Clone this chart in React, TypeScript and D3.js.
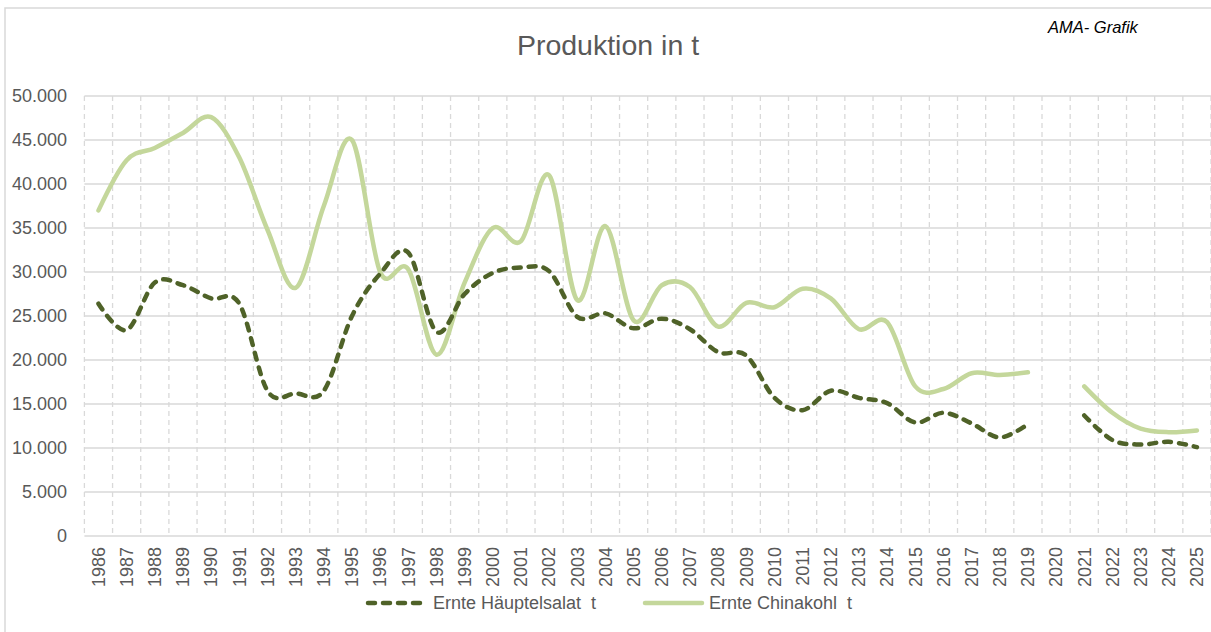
import React from 'react';
import * as d3 from 'd3';

// years on the category axis
const years = d3.range(1986, 2026).map(String);

// Ernte Häuptelsalat t (2020 missing)
const salat = [
  26400, 23400, 28800, 28500, 27000, 26400, 16500, 16200, 16500, 25000,
  29800, 32200, 23200, 27500, 29900, 30500, 30100, 24900, 25300, 23600,
  24700, 23500, 20900, 20500, 15700, 14300, 16500, 15700, 15100, 12900,
  14000, 12800, 11200, 12700, null, 13700, 10900, 10400, 10700, 10100,
];

// Ernte Chinakohl t (2020 missing)
const kohl = [
  37000, 42700, 44100, 45800, 47600, 43000, 34800, 28200, 37500, 45000,
  30000, 30300, 20600, 28800, 35000, 33500, 41000, 26800, 35200, 24500,
  28500, 28300, 23800, 26500, 26000, 28100, 27000, 23500, 24300, 17000,
  16700, 18500, 18300, 18600, null, 17000, 14000, 12200, 11800, 12000,
];

const yTicks = [0, 5000, 10000, 15000, 20000, 25000, 30000, 35000, 40000, 45000, 50000];

const W = 1211;
const H = 632;
const left = 84.4;
const right = 1211;
const top = 96;
const bottom = 536;
const grid = '#d9d9d9';
const txt = '#595959';
const font = '"Liberation Sans", Arial, sans-serif';

const fmt = (v: number) => (v === 0 ? '0' : d3.format(',')(v).replace(/,/g, '.'));

export default function App() {
  const x = d3.scaleBand<string>().domain(years).range([left, right]).padding(0);
  const y = d3.scaleLinear().domain([0, 50000]).range([bottom, top]);
  const cx = (yr: string) => (x(yr) as number) + x.bandwidth() / 2;

  const line = d3
    .line<number | null>()
    .defined((d) => d !== null)
    .x((_, i) => cx(years[i]))
    .y((d) => y(d as number))
    .curve(d3.curveCardinal.tension(0));

  const edges = years.map((yr) => x(yr) as number).concat([right]);

  return (
    <svg width={W} height={H} style={{ position: 'absolute', left: 0, top: 0, background: '#fff' }}>
      <rect x={5} y={8} width={W + 10} height={H + 10} fill="#fff" stroke={grid} strokeWidth={1.5} />

      <text x={608} y={55} textAnchor="middle" fontFamily={font} fontSize={28.5} fill={txt}>
        Produktion in t
      </text>
      <text x={1048} y={33} fontFamily={font} fontSize={16.5} fontStyle="italic" fill="#000" style={{ whiteSpace: 'pre' }}>
        AMA- Grafik
      </text>

      {/* horizontal grid */}
      {yTicks.map((t) => (
        <line key={'h' + t} x1={left} x2={right} y1={y(t)} y2={y(t)} stroke={grid} strokeWidth={1.5} />
      ))}
      {/* vertical dashed grid at category edges */}
      {edges.map((e, i) => (
        <line key={'v' + i} x1={e} x2={e} y1={top} y2={bottom} stroke={grid} strokeWidth={1.3} strokeDasharray="5 4" />
      ))}

      {yTicks.map((t) => (
        <text key={'yl' + t} x={67} y={y(t)} dy="0.35em" textAnchor="end" fontFamily={font} fontSize={18} fill={txt}>
          {fmt(t)}
        </text>
      ))}

      {years.map((yr) => (
        <text
          key={'xl' + yr}
          transform={`translate(${cx(yr)},${bottom + 11}) rotate(-90)`}
          dy="0.35em"
          textAnchor="end"
          fontFamily={font}
          fontSize={18}
          fill={txt}
        >
          {yr}
        </text>
      ))}

      <path d={line(kohl) || ''} fill="none" stroke="#c4d79b" strokeWidth={4.5} strokeLinecap="round" />
      <path
        d={line(salat) || ''}
        fill="none"
        stroke="#4f6228"
        strokeWidth={4.5}
        strokeDasharray="7 8"
        strokeLinecap="round"
      />

      {/* legend */}
      <line x1={368} x2={426} y1={603} y2={603} stroke="#4f6228" strokeWidth={4.5} strokeDasharray="7 8" strokeLinecap="round" />
      <text x={433} y={603} dy="0.35em" fontFamily={font} fontSize={18} fill={txt} style={{ whiteSpace: 'pre' }}>
        Ernte Häuptelsalat  t
      </text>
      <line x1={645} x2={702} y1={603} y2={603} stroke="#c4d79b" strokeWidth={4.5} strokeLinecap="round" />
      <text x={709} y={603} dy="0.35em" fontFamily={font} fontSize={18} fill={txt} style={{ whiteSpace: 'pre' }}>
        Ernte Chinakohl  t
      </text>
    </svg>
  );
}
